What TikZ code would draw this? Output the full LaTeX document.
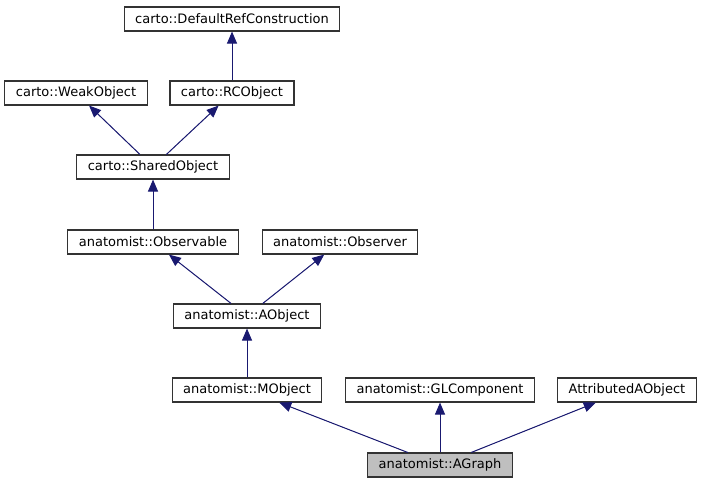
\documentclass[tikz,border=0pt]{standalone}
\usepackage{fontspec}
\setmainfont{DejaVu Sans}
\usetikzlibrary{arrows.meta}
\definecolor{edgeblue}{HTML}{191970}
\definecolor{boxgray}{HTML}{BFBFBF}

\begin{document}
\begin{tikzpicture}[x=1pt,y=-1pt]
\tikzset{cls/.style ={draw=black!80, line width=1.1pt, minimum height=24pt,
    inner xsep=11pt, font=\fontsize{13}{15}\selectfont},
  current/.style ={cls, fill=boxgray},
  inherit/.style ={-{Triangle[length=12pt,width=10pt]}, draw=edgeblue,
    fill=edgeblue, line width=1pt}}
\useasboundingbox (0,0) rectangle (703,485);
% classes, row by row
\node[cls] (defref) at (232,19) {carto::DefaultRefConstruction};
\node[cls] (weak) at (76,93) {carto::WeakObject};
\node[cls] (rc) at (232,93) {carto::RCObject};
\node[cls] (shared) at (153,167) {carto::SharedObject};
\node[cls] (observable) at (153,242) {anatomist::Observable};
\node[cls] (observer) at (340,242) {anatomist::Observer};
\node[cls] (aobject) at (247,316) {anatomist::AObject};
\node[cls] (mobject) at (247,390) {anatomist::MObject};
\node[cls] (glcomp) at (440,390) {anatomist::GLComponent};
\node[cls] (attributed) at (627,390) {AttributedAObject};
\node[current] (agraph) at (440,465) {anatomist::AGraph};
% inheritance
\draw[inherit] (rc) -- (defref);
\draw[inherit] (shared) -- (weak);
\draw[inherit] (shared) -- (rc);
\draw[inherit] (observable) -- (shared);
\draw[inherit] (aobject) -- (observable);
\draw[inherit] (aobject) -- (observer);
\draw[inherit] (mobject) -- (aobject);
\draw[inherit] (agraph) -- (mobject);
\draw[inherit] (agraph) -- (glcomp);
\draw[inherit] (agraph) -- (attributed);
\end{tikzpicture}
\end{document}
